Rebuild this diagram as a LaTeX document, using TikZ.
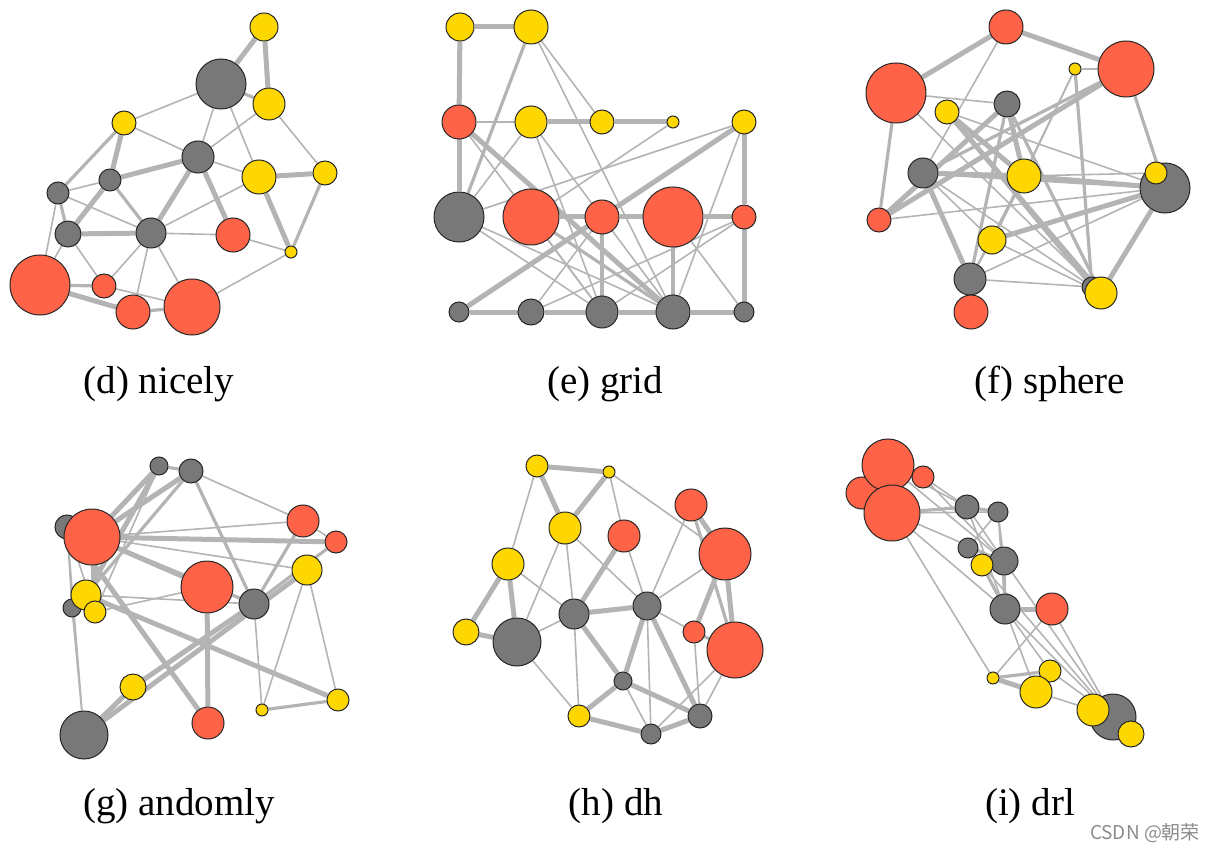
\documentclass[tikz,border=0pt]{standalone}
\usepackage{fontspec}
\setmainfont{Liberation Serif}
\newfontfamily\cjk{Noto Sans CJK SC}
\usetikzlibrary{backgrounds}
\definecolor{nodered}{HTML}{FF6347}
\definecolor{nodeyellow}{HTML}{FFD700}
\definecolor{nodegrey}{HTML}{787878}
\definecolor{edgegrey}{HTML}{B4B4B4}
\definecolor{markgrey}{HTML}{8C8C8C}

\begin{document}
\begin{tikzpicture}[x=1pt,y=-1pt]
\tikzset{vertex/.style = {shape=circle,draw=black!85,line width=1pt,inner sep=0pt}}
\tikzset{redvertex/.style = {vertex,fill=nodered}}
\tikzset{yellowvertex/.style = {vertex,fill=nodeyellow}}
\tikzset{greyvertex/.style = {vertex,fill=nodegrey}}
\tikzset{edge/.style = {draw=edgegrey,line width=1.6pt}}
\tikzset{midedge/.style = {edge,line width=3.2pt}}
\tikzset{thickedge/.style = {edge,line width=5pt}}
\tikzset{caption/.style = {anchor=base,inner sep=0pt,font=\fontsize{39}{45}\selectfont}}
\useasboundingbox (0,0) rectangle (1216,853);

% (d) nicely
\node[yellowvertex,minimum size=28] (d1)  at (264,27)  {};
\node[greyvertex,minimum size=50]   (d2)  at (221,84)  {};
\node[yellowvertex,minimum size=32] (d3)  at (269,104) {};
\node[yellowvertex,minimum size=24] (d4)  at (124,123) {};
\node[greyvertex,minimum size=32]   (d5)  at (198,157) {};
\node[yellowvertex,minimum size=34] (d6)  at (259,177) {};
\node[yellowvertex,minimum size=24] (d7)  at (325,173) {};
\node[greyvertex,minimum size=22]   (d8)  at (110,180) {};
\node[greyvertex,minimum size=22]   (d9)  at (58,193)  {};
\node[greyvertex,minimum size=26]   (d10) at (68,234)  {};
\node[greyvertex,minimum size=30]   (d11) at (151,233) {};
\node[redvertex,minimum size=34]    (d12) at (233,235) {};
\node[yellowvertex,minimum size=12] (d13) at (291,252) {};
\node[redvertex,minimum size=60]    (d14) at (40,285)  {};
\node[redvertex,minimum size=24]    (d15) at (104,286) {};
\node[redvertex,minimum size=34]    (d16) at (133,312) {};
\node[redvertex,minimum size=56]    (d17) at (192,307) {};

% (e) grid
\node[yellowvertex,minimum size=28] (e1)  at (460,27)  {};
\node[yellowvertex,minimum size=34] (e2)  at (531,27)  {};
\node[redvertex,minimum size=34]    (e3)  at (459,122) {};
\node[yellowvertex,minimum size=32] (e4)  at (531,122) {};
\node[yellowvertex,minimum size=24] (e5)  at (602,122) {};
\node[yellowvertex,minimum size=12] (e6)  at (673,122) {};
\node[yellowvertex,minimum size=24] (e7)  at (744,122) {};
\node[greyvertex,minimum size=50]   (e8)  at (459,217) {};
\node[redvertex,minimum size=56]    (e9)  at (531,217) {};
\node[redvertex,minimum size=34]    (e10) at (602,217) {};
\node[redvertex,minimum size=60]    (e11) at (673,217) {};
\node[redvertex,minimum size=24]    (e12) at (744,217) {};
\node[greyvertex,minimum size=20]   (e13) at (459,312) {};
\node[greyvertex,minimum size=26]   (e14) at (531,312) {};
\node[greyvertex,minimum size=32]   (e15) at (602,312) {};
\node[greyvertex,minimum size=34]   (e16) at (673,312) {};
\node[greyvertex,minimum size=20]   (e17) at (744,312) {};

% (f) sphere
\node[redvertex,minimum size=34]    (f1)  at (1006,27)  {};
\node[redvertex,minimum size=60]    (f2)  at (896,93)   {};
\node[yellowvertex,minimum size=12] (f3)  at (1075,69)  {};
\node[redvertex,minimum size=56]    (f4)  at (1126,69)  {};
\node[yellowvertex,minimum size=24] (f5)  at (947,112)  {};
\node[greyvertex,minimum size=26]   (f6)  at (1007,104) {};
\node[greyvertex,minimum size=30]   (f7)  at (923,173)  {};
\node[yellowvertex,minimum size=34] (f8)  at (1024,176) {};
\node[greyvertex,minimum size=50]   (f9)  at (1165,188) {};
\node[yellowvertex,minimum size=22] (f10) at (1156,173) {};
\node[redvertex,minimum size=24]    (f11) at (879,220)  {};
\node[yellowvertex,minimum size=28] (f12) at (992,240)  {};
\node[greyvertex,minimum size=32]   (f13) at (970,279)  {};
\node[redvertex,minimum size=34]    (f14) at (971,312)  {};
\node[greyvertex,minimum size=20]   (f15) at (1092,287) {};
\node[yellowvertex,minimum size=32] (f16) at (1101,293) {};

% (g) andomly
\node[greyvertex,minimum size=18]   (g1)  at (159,466) {};
\node[greyvertex,minimum size=24]   (g2)  at (191,471) {};
\node[greyvertex,minimum size=24]   (g3)  at (67,527)  {};
\node[redvertex,minimum size=56]    (g4)  at (92,537)  {};
\node[redvertex,minimum size=32]    (g5)  at (303,521) {};
\node[redvertex,minimum size=22]    (g6)  at (336,542) {};
\node[yellowvertex,minimum size=30] (g7)  at (307,570) {};
\node[redvertex,minimum size=52]    (g8)  at (207,587) {};
\node[greyvertex,minimum size=30]   (g9)  at (254,604) {};
\node[greyvertex,minimum size=18]   (g10) at (72,608)  {};
\node[yellowvertex,minimum size=30] (g11) at (86,595)  {};
\node[yellowvertex,minimum size=22] (g12) at (95,612)  {};
\node[yellowvertex,minimum size=26] (g13) at (133,687) {};
\node[redvertex,minimum size=32]    (g14) at (208,723) {};
\node[yellowvertex,minimum size=12] (g15) at (262,710) {};
\node[yellowvertex,minimum size=22] (g16) at (338,700) {};
\node[greyvertex,minimum size=48]   (g17) at (84,735)  {};

% (h) dh
\node[yellowvertex,minimum size=22] (h1)  at (537,466) {};
\node[yellowvertex,minimum size=12] (h2)  at (609,472) {};
\node[redvertex,minimum size=32]    (h3)  at (691,505) {};
\node[yellowvertex,minimum size=32] (h4)  at (565,528) {};
\node[redvertex,minimum size=32]    (h5)  at (624,536) {};
\node[redvertex,minimum size=52]    (h6)  at (725,554) {};
\node[yellowvertex,minimum size=32] (h7)  at (508,564) {};
\node[greyvertex,minimum size=30]   (h8)  at (574,614) {};
\node[greyvertex,minimum size=28]   (h9)  at (647,606) {};
\node[redvertex,minimum size=22]    (h10) at (694,632) {};
\node[redvertex,minimum size=56]    (h11) at (735,650) {};
\node[yellowvertex,minimum size=26] (h12) at (466,632) {};
\node[greyvertex,minimum size=48]   (h13) at (517,642) {};
\node[greyvertex,minimum size=18]   (h14) at (623,681) {};
\node[yellowvertex,minimum size=22] (h15) at (579,716) {};
\node[greyvertex,minimum size=20]   (h16) at (651,734) {};
\node[greyvertex,minimum size=24]   (h17) at (700,716) {};

% (i) drl
\node[redvertex,minimum size=32]    (i3)  at (862,493)  {};
\node[redvertex,minimum size=52]    (i1)  at (888,465)  {};
\node[redvertex,minimum size=22]    (i2)  at (923,477)  {};
\node[redvertex,minimum size=56]    (i4)  at (892,513)  {};
\node[greyvertex,minimum size=24]   (i5)  at (967,507)  {};
\node[greyvertex,minimum size=20]   (i6)  at (998,512)  {};
\node[greyvertex,minimum size=20]   (i7)  at (968,548)  {};
\node[greyvertex,minimum size=28]   (i8)  at (1004,561) {};
\node[yellowvertex,minimum size=22] (i9)  at (982,565)  {};
\node[greyvertex,minimum size=30]   (i10) at (1005,609) {};
\node[redvertex,minimum size=32]    (i11) at (1052,609) {};
\node[yellowvertex,minimum size=12] (i12) at (993,678)  {};
\node[yellowvertex,minimum size=22] (i13) at (1050,671) {};
\node[yellowvertex,minimum size=32] (i14) at (1036,692) {};
\node[greyvertex,minimum size=46]   (i15) at (1113,717) {};
\node[yellowvertex,minimum size=32] (i16) at (1093,710) {};
\node[yellowvertex,minimum size=26] (i17) at (1131,734) {};

\begin{scope}[on background layer]
% (d)
\foreach \a/\b in {2/4,2/5,2/6,3/5,3/7,4/5,5/6,6/11,8/9,9/11,9/14,10/14,10/15,11/12,11/15,11/16,11/17,12/13,13/17,15/17}
  \draw[edge] (d\a) to (d\b);
\foreach \a/\b in {2/3,4/9,8/11,9/10,7/13,14/15,16/17}
  \draw[midedge] (d\a) to (d\b);
\foreach \a/\b in {1/2,1/3,4/8,5/8,5/11,5/12,6/7,6/13,10/11,14/16,8/10}
  \draw[thickedge] (d\a) to (d\b);
% (e)
\foreach \a/\b in {3/4,2/5,2/16,3/15,4/8,4/15,4/16,6/9,7/8,7/16,8/15,9/15,12/14,12/15,11/17,8/16,10/14}
  \draw[edge] (e\a) to (e\b);
\foreach \a/\b in {2/8,10/15,9/16,11/16}
  \draw[midedge] (e\a) to (e\b);
\foreach \a/\b in {1/2,1/3,3/8,4/5,5/6,9/10,10/11,11/12,7/12,12/17,13/14,14/15,15/16,16/17,13/7,3/16}
  \draw[thickedge] (e\a) to (e\b);
% (f)
\foreach \a/\b in {1/7,2/6,2/16,3/4,3/12,3/8,5/9,7/16,8/13,10/8,12/13,12/16,13/15,9/13,7/12,11/9}
  \draw[edge] (f\a) to (f\b);
\foreach \a/\b in {2/11,3/15,4/7,4/9,6/13,8/12,7/9,5/15,6/16}
  \draw[midedge] (f\a) to (f\b);
\foreach \a/\b in {1/2,1/4,4/11,5/8,5/16,6/8,7/13,8/9,9/12,9/16,7/8,6/11}
  \draw[thickedge] (f\a) to (f\b);
% (g)
\foreach \a/\b in {2/5,4/5,3/17,10/17,11/9,7/15,7/16,9/15,3/12,4/7,1/12,3/8,12/8,5/6,3/10}
  \draw[edge] (g\a) to (g\b);
\foreach \a/\b in {1/2,6/9,15/16,2/11,5/9,2/9,4/9}
  \draw[midedge] (g\a) to (g\b);
\foreach \a/\b in {1/4,2/4,1/11,3/14,4/6,4/8,8/14,7/17,13/9,11/16,13/17,4/12}
  \draw[thickedge] (g\a) to (g\b);
% (h)
\foreach \a/\b in {1/7,2/5,2/6,3/9,4/8,4/9,4/13,5/9,6/9,7/8,8/13,8/15,9/10,9/16,10/17,11/17,11/16,13/15,14/16}
  \draw[edge] (h\a) to (h\b);
\foreach \a/\b in {3/11,10/11}
  \draw[midedge] (h\a) to (h\b);
\foreach \a/\b in {1/2,1/4,2/4,3/6,5/8,6/10,6/11,7/12,7/13,8/9,8/14,9/14,9/17,12/13,14/15,14/17,15/16,16/17}
  \draw[thickedge] (h\a) to (h\b);
% (i)
\foreach \a/\b in {1/5,2/5,2/8,4/6,4/8,4/10,4/12,1/8,5/8,5/10,6/7,6/8,6/10,7/8,8/15,10/15,9/15,10/14,11/12,14/16,13/15,10/13,11/15}
  \draw[edge] (i\a) to (i\b);
\foreach \a/\b in {4/5,5/6,8/10,9/10,12/13,13/14}
  \draw[midedge] (i\a) to (i\b);
\foreach \a/\b in {10/11,12/14}
  \draw[thickedge] (i\a) to (i\b);
\end{scope}

% captions
\node[caption] (capd) at (159,393) {(d) nicely};
\node[caption] (cape) at (605,393) {(e) grid};
\node[caption] (capf) at (1050,393) {(f) sphere};
\node[caption] (capg) at (179,815) {(g) andomly};
\node[caption] (caph) at (616,815) {(h) dh};
\node[caption] (capi) at (1030,815) {(i) drl};
\node[text=markgrey,font=\cjk\fontsize{19}{22}\selectfont] (mark) at (1145,833) {CSDN @朝荣};
\end{tikzpicture}
\end{document}
